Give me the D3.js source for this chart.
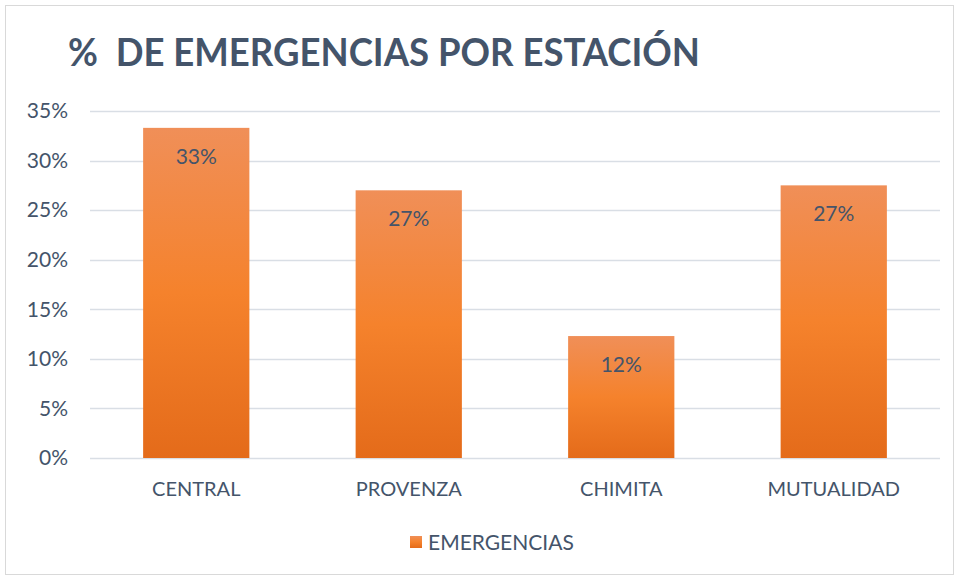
<!DOCTYPE html>
<html><head><meta charset="utf-8">
<script src="https://cdn.jsdelivr.net/npm/d3@7"></script>
<style>body{margin:0;background:#fff;} svg{display:block;}</style>
</head><body>
<script>
const categories = ["CENTRAL", "PROVENZA", "CHIMITA", "MUTUALIDAD"];
const values = [0.333, 0.270, 0.123, 0.275];
const labels = ["33%", "27%", "12%", "27%"];
const yTicks = [0, 0.05, 0.10, 0.15, 0.20, 0.25, 0.30, 0.35];
const seriesName = "EMERGENCIAS";
const title = "%\u00A0 DE EMERGENCIAS POR ESTACIÓN";

const W = 956, H = 577;
const m = {left: 90, right: 16, top: 111, bottom: 119};
const textColor = "#44546A";
const font = "Lato, 'Open Sans', sans-serif";

const svg = d3.select("body").append("svg").attr("width", W).attr("height", H);
const defs = svg.append("defs");
const g = defs.append("linearGradient").attr("id","barGrad").attr("x1",0).attr("y1",0).attr("x2",0).attr("y2",1);
g.append("stop").attr("offset","0%").attr("stop-color","#F08F58");
g.append("stop").attr("offset","50%").attr("stop-color","#F5822C");
g.append("stop").attr("offset","100%").attr("stop-color","#E46B1A");

svg.append("rect").attr("x",5.5).attr("y",5.5).attr("width",W-8).attr("height",H-8)
  .attr("fill","#fff").attr("stroke","#D9D9D9").attr("stroke-width",1);

svg.append("text").attr("x",68).attr("y",66).text(title)
  .attr("font-family",font).attr("font-weight","bold").attr("font-size",38)
  .attr("fill",textColor).attr("textLength",632).attr("lengthAdjust","spacingAndGlyphs");

const x = d3.scaleBand().domain(categories).range([m.left, W - m.right]).paddingInner(0.5).paddingOuter(0.25);
const y = d3.scaleLinear().domain([0, 0.35]).range([H - m.bottom, m.top]);

const grid = svg.append("g");
grid.selectAll("line").data(yTicks).join("line")
  .attr("x1", m.left).attr("x2", W - m.right)
  .attr("y1", d => Math.round(y(d)) + 0.5).attr("y2", d => Math.round(y(d)) + 0.5)
  .attr("stroke", "#D9DEE5").attr("stroke-width", 1.5);

const yAxis = svg.append("g").attr("transform", `translate(${m.left},0)`)
  .call(d3.axisLeft(y).tickValues(yTicks).tickFormat(d3.format(".0%")).tickSize(0).tickPadding(22));
yAxis.select(".domain").remove();
yAxis.selectAll("text").attr("font-family",font).attr("font-size",21).attr("fill",textColor);

const xAxis = svg.append("g").attr("transform", `translate(0,${H - m.bottom})`)
  .call(d3.axisBottom(x).tickSize(0).tickPadding(24));
xAxis.select(".domain").remove();
xAxis.selectAll("text").attr("font-family",font).attr("font-size",20).attr("fill",textColor);

svg.append("g").selectAll("rect").data(values).join("rect")
  .attr("x", (d,i) => x(categories[i])).attr("width", x.bandwidth())
  .attr("y", d => y(d)).attr("height", d => y(0) - y(d))
  .attr("fill", "url(#barGrad)");

svg.append("g").selectAll("text").data(values).join("text")
  .attr("x", (d,i) => x(categories[i]) + x.bandwidth()/2)
  .attr("y", d => y(d) + 36)
  .attr("text-anchor","middle").text((d,i) => labels[i])
  .attr("font-family",font).attr("font-size",21).attr("fill",textColor);

const lg = svg.append("g");
lg.append("rect").attr("x",410).attr("y",536).attr("width",12).attr("height",12).attr("fill","url(#barGrad)");
lg.append("text").attr("x",428).attr("y",550).text(seriesName)
  .attr("font-family",font).attr("font-size",21).attr("fill",textColor);
</script>
</body></html>
